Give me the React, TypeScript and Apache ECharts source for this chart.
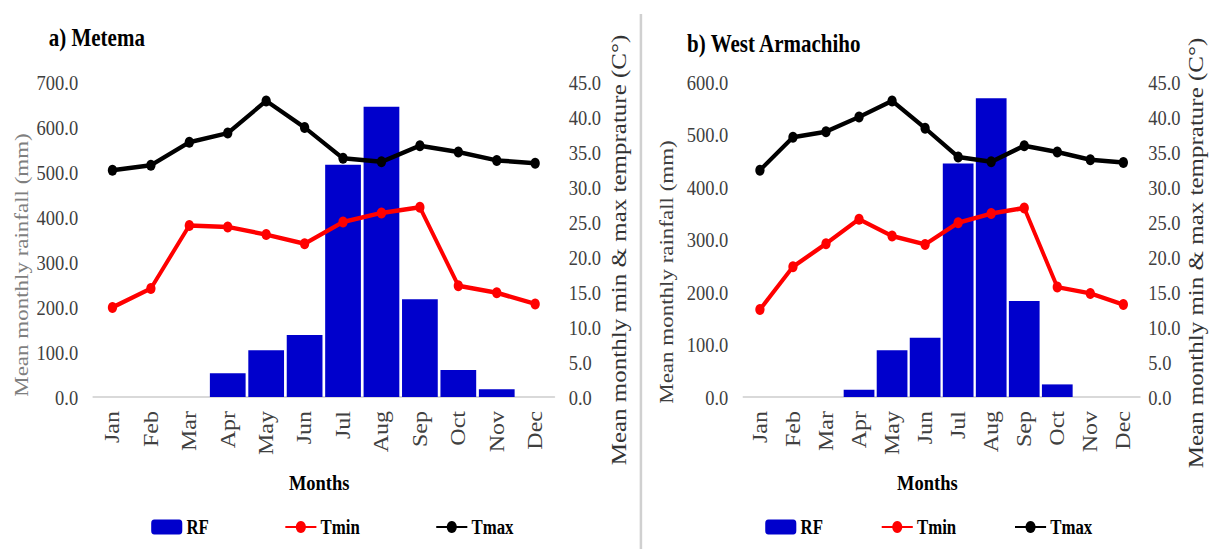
import React, { useEffect, useRef } from "react";
import * as echarts from "echarts";

const months = ["Jan", "Feb", "Mar", "Apr", "May", "Jun", "Jul", "Aug", "Sep", "Oct", "Nov", "Dec"];

const metemaRF = [0, 0, 0, 53, 104, 138, 516, 645, 217, 60, 17, 0];
const metemaTmin = [12.8, 15.5, 24.5, 24.3, 23.2, 21.9, 25.0, 26.3, 27.1, 15.9, 14.9, 13.3];
const metemaTmax = [32.4, 33.1, 36.4, 37.7, 42.3, 38.5, 34.1, 33.6, 35.9, 35.0, 33.8, 33.4];

const westRF = [0, 0, 0, 14, 89, 113, 445, 569, 183, 24, 0, 0];
const westTmin = [12.5, 18.6, 21.9, 25.4, 23.0, 21.8, 24.9, 26.2, 27.0, 15.7, 14.8, 13.2];
const westTmax = [32.4, 37.1, 37.9, 40.0, 42.3, 38.4, 34.3, 33.6, 35.9, 35.0, 33.9, 33.5];

const metemaRainMax = 700;
const westRainMax = 600;
const rainInterval = 100;
const tempMax = 45;
const tempInterval = 5;

const SX = 0.84;
const W = Math.round(1212 / SX);
const H = 549;
const FONT = "'Liberation Serif', 'Times New Roman', serif";

export default function App() {
  const ref = useRef<HTMLDivElement>(null);

  useEffect(() => {
    if (!ref.current) return;
    const chart = echarts.init(ref.current, undefined, { renderer: "svg" });
    const fmt = (v: number) => v.toFixed(1);
    const tickLabel = (margin: number) => ({
      fontSize: 22,
      color: "#404040",
      fontFamily: FONT,
      margin,
      formatter: fmt,
    });
    const yBase = {
      type: "value" as const,
      axisLine: { show: false },
      axisTick: { show: false },
      splitLine: { show: false },
    };
    const xAxisFor = (gridIndex: number) => ({
      type: "category" as const,
      gridIndex,
      data: months,
      boundaryGap: true,
      axisLine: { lineStyle: { color: "#d9d9d9", width: 2 } },
      axisTick: { show: false },
      axisLabel: { rotate: 90, fontSize: 24, color: "#404040", fontFamily: FONT, margin: 14 },
    });
    const lineSeries = (name: string, color: string, data: number[], xi: number, yi: number) => ({
      name,
      type: "line" as const,
      xAxisIndex: xi,
      yAxisIndex: yi,
      data,
      symbol: "circle",
      symbolSize: 11,
      itemStyle: { color },
      lineStyle: { color, width: 4.5 },
    });
    const barSeries = (data: number[], xi: number, yi: number) => ({
      name: "RF",
      type: "bar" as const,
      xAxisIndex: xi,
      yAxisIndex: yi,
      data,
      barCategoryGap: "7%",
      itemStyle: { color: "#0000cc" },
    });
    const text = (t: string, x: number, y: number, opts: any = {}) => ({
      type: "text",
      x,
      y,
      rotation: opts.rotation || 0,
      style: {
        text: t,
        fontSize: opts.fontSize || 22,
        fontWeight: opts.bold ? "bold" : "normal",
        fontFamily: FONT,
        fill: opts.color || "#000",
        align: opts.align || "center",
        verticalAlign: "middle",
      },
    });
    const legendBase = {
      top: 512,
      itemWidth: 37,
      itemHeight: 15,
      data: ["RF", "Tmin", "Tmax"],
      textStyle: { fontSize: 20, fontWeight: "bold", fontFamily: FONT, color: "#000" },
    };

    chart.setOption({
      animation: false,
      backgroundColor: "#ffffff",
      grid: [
        { left: 111, right: W - 660, top: 82, bottom: H - 397 },
        { left: 885, right: W - 1357, top: 82, bottom: H - 397 },
      ],
      xAxis: [xAxisFor(0), xAxisFor(1)],
      yAxis: [
        { ...yBase, gridIndex: 0, min: 0, max: metemaRainMax, interval: rainInterval, axisLabel: tickLabel(18) },
        { ...yBase, gridIndex: 0, position: "right", min: 0, max: tempMax, interval: tempInterval, axisLabel: tickLabel(17) },
        { ...yBase, gridIndex: 1, min: 0, max: westRainMax, interval: rainInterval, axisLabel: tickLabel(18) },
        { ...yBase, gridIndex: 1, position: "right", min: 0, max: tempMax, interval: tempInterval, axisLabel: tickLabel(10) },
      ],
      legend: [
        { ...legendBase, left: 175, itemGap: 90 },
        { ...legendBase, left: 906, itemGap: 69 },
      ],
      series: [
        barSeries(metemaRF, 0, 0),
        lineSeries("Tmin", "#ff0000", metemaTmin, 0, 1),
        lineSeries("Tmax", "#000000", metemaTmax, 0, 1),
        barSeries(westRF, 1, 2),
        lineSeries("Tmin", "#ff0000", westTmin, 1, 3),
        lineSeries("Tmax", "#000000", westTmax, 1, 3),
      ],
      graphic: [
        {
          type: "line",
          shape: { x1: 763, y1: 14, x2: 763, y2: H },
          style: { stroke: "#d0d0d0", lineWidth: 3 },
        },
        text("a) Metema", 58, 37, { bold: true, fontSize: 25, align: "left" }),
        text("b) West Armachiho", 818, 43, { bold: true, fontSize: 25, align: "left" }),
        text("Months", 380, 482, { bold: true, fontSize: 22 }),
        text("Months", 1104, 482, { bold: true, fontSize: 22 }),
        text("Mean monthly rainfall (mm)", 26, 265, { rotation: Math.PI / 2, fontSize: 23, color: "#7f7f7f" }),
        text("Mean monthly min & max temprature (C°)", 736, 250, { rotation: Math.PI / 2, fontSize: 25, color: "#333333" }),
        text("Mean monthly rainfall (mm)", 794, 272, { rotation: Math.PI / 2, fontSize: 23, color: "#404040" }),
        text("Mean monthly min & max temprature (C°)", 1424, 253, { rotation: Math.PI / 2, fontSize: 25, color: "#333333" }),
      ],
    });
    return () => chart.dispose();
  }, []);

  return (
    <div
      ref={ref}
      style={{
        position: "fixed",
        left: 0,
        top: 0,
        width: W,
        height: H,
        transform: `scaleX(${SX})`,
        transformOrigin: "0 0",
        background: "#fff",
      }}
    />
  );
}
